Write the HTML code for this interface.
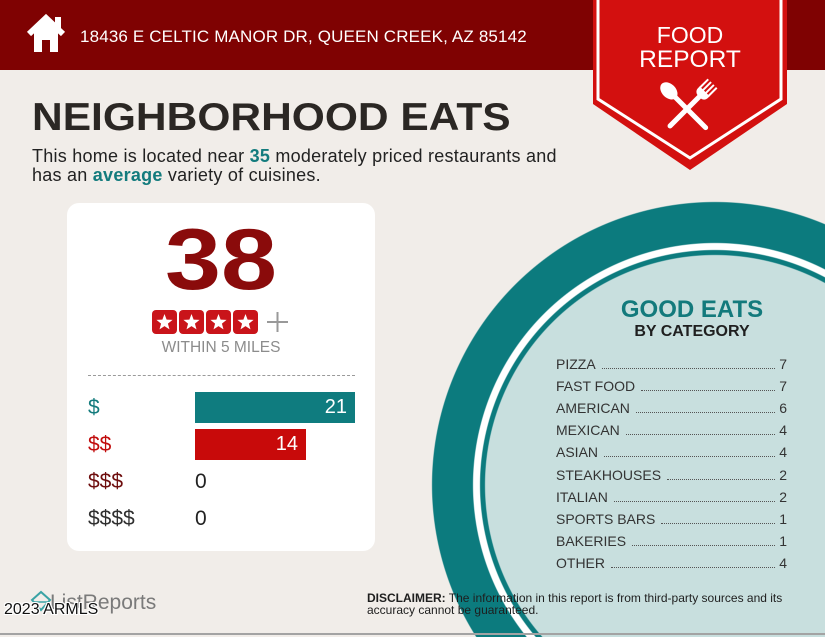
<!DOCTYPE html>
<html>
<head>
<meta charset="utf-8">
<style>
  html,body{margin:0;padding:0;overflow:hidden;width:825px;height:637px;}
  body{position:relative;background:#f1ede9;font-family:"Liberation Sans",Arial,sans-serif;}
  .abs{position:absolute;white-space:nowrap;}
  .header{position:absolute;left:0;top:0;width:825px;height:70px;background:#7f0202;}
  .circle{position:absolute;left:0;top:0;width:825px;height:637px;
    background:radial-gradient(circle at 715px 485px,#c8dfde 0,#c8dfde 229.5px,#0c7b7e 230.5px,#0c7b7e 234.5px,#ffffff 235.5px,#ffffff 241.5px,#0c7b7e 242.5px,#0c7b7e 282.5px,rgba(241,237,233,0) 283.5px);}
  .card{position:absolute;left:67px;top:203px;width:308px;height:348px;background:#fff;border-radius:12px;}
  .row{position:absolute;left:88px;height:31px;line-height:31px;font-size:21px;}
  .bar{position:absolute;left:195px;height:31px;line-height:31px;font-size:20px;color:#fff;text-align:right;box-sizing:border-box;padding-right:8px;}
  .list{position:absolute;left:556px;top:353px;width:231px;font-size:14px;color:#333;}
  .li{display:flex;align-items:flex-end;height:22.1px;line-height:22px;}
  .li .d{flex:1;border-bottom:1.5px dotted #555;margin:0 4px 6px 6px;}
</style>
</head>
<body>

<div class="header"></div>

<!-- house icon -->
<svg class="abs" style="left:0;top:0" width="90" height="70" viewBox="0 0 90 70">
  <rect x="55" y="17" width="6" height="11" fill="#fff"/>
  <polyline points="29,34 46,18 63,34" fill="none" stroke="#fff" stroke-width="6" stroke-linejoin="miter"/>
  <path d="M34 32 L46 21 L58 32 L58 52 L50 52 L50 40 L42 40 L42 52 L34 52 Z" fill="#fff"/>
</svg>

<div class="abs" style="left:80px;top:27.6px;font-size:17px;line-height:17px;letter-spacing:0.15px;color:#fff;">18436 E CELTIC MANOR DR, QUEEN CREEK, AZ 85142</div>

<!-- ribbon -->
<svg class="abs" style="left:0;top:0" width="825" height="180" viewBox="0 0 825 180">
  <polygon points="593,0 787,0 787,104 690,170 593,104" fill="#d3100f"/>
  <polyline points="598,0 598,99 690,158 781,99 781,0" fill="none" stroke="#fff" stroke-width="3"/>
  <!-- spoon -->
  <g transform="translate(671,93) rotate(-45)">
    <ellipse cx="0" cy="-3" rx="7" ry="10" fill="#fff"/>
    <line x1="0" y1="5" x2="0" y2="49" stroke="#fff" stroke-width="5" stroke-linecap="round"/>
  </g>
  <!-- fork -->
  <g transform="translate(704,92) rotate(45)">
    <rect x="-7" y="-12" width="2" height="12" fill="#fff"/>
    <rect x="-3" y="-12" width="2" height="12" fill="#fff"/>
    <rect x="1" y="-12" width="2" height="12" fill="#fff"/>
    <rect x="5" y="-12" width="2" height="12" fill="#fff"/>
    <path d="M-7 -1 L7 -1 L7 1 Q7 7 0 7 Q-7 7 -7 1 Z" fill="#fff"/>
    <line x1="0" y1="6" x2="0" y2="48" stroke="#fff" stroke-width="5" stroke-linecap="round"/>
  </g>
</svg>
<div class="abs" style="left:590px;width:200px;text-align:center;top:23.5px;font-size:23px;line-height:23px;color:#fff;">FOOD</div>
<div class="abs" style="left:590px;width:200px;text-align:center;top:47.7px;font-size:24.5px;line-height:24.5px;color:#fff;">REPORT</div>

<!-- heading -->
<div class="abs" style="left:32px;top:98px;font-size:39px;line-height:39px;font-weight:bold;color:#2b2724;transform:scaleX(1.09);transform-origin:left top;">NEIGHBORHOOD EATS</div>
<div class="abs" style="left:32px;top:147px;font-size:18px;line-height:19px;letter-spacing:0.25px;color:#222;">This home is located near <b style="color:#137b7d">35</b> moderately priced restaurants and<br>has an <b style="color:#137b7d">average</b> variety of cuisines.</div>

<!-- circle -->
<div class="circle"></div>

<!-- card -->
<div class="card"></div>
<div class="abs" style="left:121px;width:200px;text-align:center;top:217px;font-size:86px;line-height:86px;font-weight:bold;color:#8a0b0b;transform:scaleX(1.17);transform-origin:center top;">38</div>

<svg class="abs" style="left:150px;top:308px" width="145" height="28" viewBox="0 0 145 28">
  <g fill="#c9141a">
    <rect x="2" y="2" width="25" height="24" rx="4"/>
    <rect x="29" y="2" width="25" height="24" rx="4"/>
    <rect x="56" y="2" width="25" height="24" rx="4"/>
    <rect x="83" y="2" width="25" height="24" rx="4"/>
  </g>
  <g fill="#fff">
    <polygon transform="translate(14.5,14.5)" points="0,-8.5 2.12,-2.91 8.08,-2.63 3.42,1.11 5,6.88 0,3.6 -5,6.88 -3.42,1.11 -8.08,-2.63 -2.12,-2.91"/>
    <polygon transform="translate(41.5,14.5)" points="0,-8.5 2.12,-2.91 8.08,-2.63 3.42,1.11 5,6.88 0,3.6 -5,6.88 -3.42,1.11 -8.08,-2.63 -2.12,-2.91"/>
    <polygon transform="translate(68.5,14.5)" points="0,-8.5 2.12,-2.91 8.08,-2.63 3.42,1.11 5,6.88 0,3.6 -5,6.88 -3.42,1.11 -8.08,-2.63 -2.12,-2.91"/>
    <polygon transform="translate(95.5,14.5)" points="0,-8.5 2.12,-2.91 8.08,-2.63 3.42,1.11 5,6.88 0,3.6 -5,6.88 -3.42,1.11 -8.08,-2.63 -2.12,-2.91"/>
  </g>
  <g stroke="#999" stroke-width="2">
    <line x1="117" y1="14" x2="138" y2="14"/>
    <line x1="127.5" y1="4" x2="127.5" y2="24"/>
  </g>
</svg>
<div class="abs" style="left:121px;width:200px;text-align:center;top:339.9px;font-size:15.5px;line-height:15.5px;color:#8c8c8c;">WITHIN 5 MILES</div>
<div class="abs" style="left:88px;top:375px;width:267px;border-top:1px dashed #9a9a9a;"></div>

<div class="row" style="top:392px;color:#137b7d;">$</div>
<div class="bar" style="top:392px;width:160px;background:#0f7c7f;">21</div>
<div class="row" style="top:429px;color:#c10b0b;">$$</div>
<div class="bar" style="top:429px;width:111px;background:#c80a0a;">14</div>
<div class="row" style="top:466px;color:#6e0d0d;">$$$</div>
<div class="row" style="top:466px;left:195px;color:#222;">0</div>
<div class="row" style="top:503px;color:#2f2f2f;">$$$$</div>
<div class="row" style="top:503px;left:195px;color:#222;">0</div>

<!-- good eats -->
<div class="abs" style="left:592px;width:200px;text-align:center;top:297.7px;font-size:24px;line-height:24px;font-weight:bold;color:#137a7c;">GOOD EATS</div>
<div class="abs" style="left:592px;width:200px;text-align:center;top:323.5px;font-size:16px;line-height:16px;font-weight:bold;color:#1f1f1f;">BY CATEGORY</div>

<div class="list">
  <div class="li"><span>PIZZA</span><span class="d"></span><span>7</span></div>
  <div class="li"><span>FAST FOOD</span><span class="d"></span><span>7</span></div>
  <div class="li"><span>AMERICAN</span><span class="d"></span><span>6</span></div>
  <div class="li"><span>MEXICAN</span><span class="d"></span><span>4</span></div>
  <div class="li"><span>ASIAN</span><span class="d"></span><span>4</span></div>
  <div class="li"><span>STEAKHOUSES</span><span class="d"></span><span>2</span></div>
  <div class="li"><span>ITALIAN</span><span class="d"></span><span>2</span></div>
  <div class="li"><span>SPORTS BARS</span><span class="d"></span><span>1</span></div>
  <div class="li"><span>BAKERIES</span><span class="d"></span><span>1</span></div>
  <div class="li"><span>OTHER</span><span class="d"></span><span>4</span></div>
</div>

<!-- disclaimer -->
<div class="abs" style="left:367px;top:591.5px;font-size:12px;line-height:12.5px;color:#1e1e1e;"><b>DISCLAIMER:</b> The information in this report is from third-party sources and its<br>accuracy cannot be guaranteed.</div>

<!-- footer logo -->
<svg class="abs" style="left:28px;top:588px" width="28" height="28" viewBox="0 0 28 28">
  <path d="M4 12 L13 4 L22 12 L13 22 Z" fill="none" stroke="#3aa3a5" stroke-width="2"/>
  <line x1="6" y1="14" x2="20" y2="14" stroke="#3aa3a5" stroke-width="1.5"/>
</svg>
<div class="abs" style="left:50px;top:592px;font-size:21px;line-height:21px;color:#7a7a7a;">ListReports</div>
<div class="abs" style="left:4px;top:601.5px;font-size:16px;line-height:16px;color:#111;text-shadow:1px 1px 0 #fff,-1px -1px 0 #fff,1px -1px 0 #fff,-1px 1px 0 #fff;">2023 ARMLS</div>

<div class="abs" style="left:0;top:633px;width:825px;height:2px;background:#a3a3a3;"></div>

</body>
</html>
